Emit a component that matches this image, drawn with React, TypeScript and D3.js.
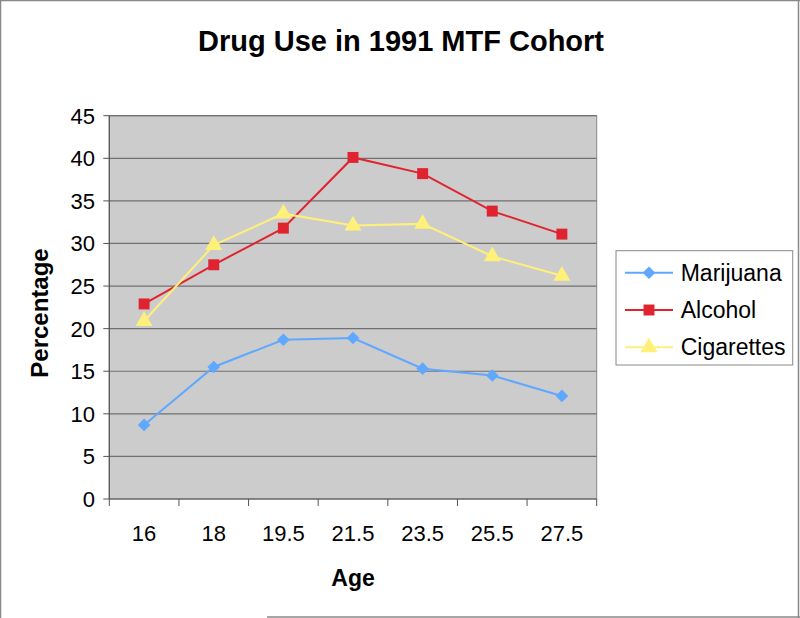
import React from "react";
import * as d3 from "d3";

const ages = ["16", "18", "19.5", "21.5", "23.5", "25.5", "27.5"];
const marijuana = [8.7, 15.5, 18.7, 18.9, 15.3, 14.5, 12.1];
const alcohol = [22.9, 27.5, 31.8, 40.1, 38.2, 33.8, 31.1];
const cigarettes = [20.9, 29.8, 33.5, 32.1, 32.3, 28.5, 26.2];
const yTicks = [0, 5, 10, 15, 20, 25, 30, 35, 40, 45];

const seriesNames = ["Marijuana", "Alcohol", "Cigarettes"];
const seriesColors = ["#5fa8ff", "#e0242f", "#fff07a"];
const seriesShapes = [d3.symbolSquare, d3.symbolSquare, d3.symbolTriangle];
const seriesRotate = [45, 0, 0];

const W = 800, H = 618;
const L = 109.3, R = 596.7, T = 115.7, B = 499;
const FONT = "'Liberation Sans', Arial, sans-serif";

export default function App() {
  const x = d3.scaleBand().domain(ages).range([L, R]).padding(0);
  const y = d3.scaleLinear().domain([0, 45]).range([B, T]);
  const data = [marijuana, alcohol, cigarettes];
  const line = d3
    .line<number>()
    .x((_, i) => (x(ages[i]) as number) + x.bandwidth() / 2)
    .y((d) => y(d));
  const symSizes = [80, 120, 125];

  const catEdges = ages.map((a) => x(a) as number).concat([R]);

  return (
    <svg
      width={W}
      height={H}
      style={{ position: "absolute", left: 0, top: 0, fontFamily: FONT }}
    >
      <rect x={0} y={0} width={W} height={H} fill="#fff" />
      {/* outer border */}
      <line x1={0} y1={0.5} x2={800} y2={0.5} stroke="#888" strokeWidth={1.5} />
      <line x1={0.5} y1={0} x2={0.5} y2={618} stroke="#888" strokeWidth={1.5} />
      <line x1={798.5} y1={0} x2={798.5} y2={618} stroke="#888" strokeWidth={1.5} />
      <line x1={267} y1={617} x2={800} y2={617} stroke="#888" strokeWidth={1.5} />

      <text x={401} y={51} textAnchor="middle" fontSize={29} fontWeight="bold" fill="#000">
        Drug Use in 1991 MTF Cohort
      </text>

      {/* plot area */}
      <rect x={L} y={T} width={R - L} height={B - T} fill="#cccccc" stroke="#888" strokeWidth={1} />
      {yTicks.map((t) => (
        <g key={t}>
          {t > 0 && (
            <line x1={L} x2={R} y1={y(t)} y2={y(t)} stroke="#707070" strokeWidth={1.2} />
          )}
          <line x1={L - 6} x2={L} y1={y(t)} y2={y(t)} stroke="#555" strokeWidth={1} />
          <text x={95} y={y(t) + 8} textAnchor="end" fontSize={22} fill="#000">
            {t}
          </text>
        </g>
      ))}
      <line x1={L} x2={L} y1={T} y2={B} stroke="#555" strokeWidth={1.2} />
      <line x1={L} x2={R} y1={B} y2={B} stroke="#555" strokeWidth={1.2} />
      {catEdges.map((e, i) => (
        <line key={i} x1={e} x2={e} y1={B} y2={B + 7} stroke="#555" strokeWidth={1} />
      ))}
      {ages.map((a) => (
        <text
          key={a}
          x={(x(a) as number) + x.bandwidth() / 2}
          y={541}
          textAnchor="middle"
          fontSize={22}
          fill="#000"
        >
          {a}
        </text>
      ))}

      {/* series */}
      {data.map((vals, si) => (
        <g key={si}>
          <path d={line(vals) || ""} fill="none" stroke={seriesColors[si]} strokeWidth={2} />
          {vals.map((v, i) => (
            <path
              key={i}
              transform={`translate(${(x(ages[i]) as number) + x.bandwidth() / 2},${y(v)}) rotate(${seriesRotate[si]})`}
              d={d3.symbol().type(seriesShapes[si]).size(symSizes[si])() || ""}
              fill={seriesColors[si]}
            />
          ))}
        </g>
      ))}

      {/* axis titles */}
      <text x={353} y={586} textAnchor="middle" fontSize={23} fontWeight="bold" fill="#000">
        Age
      </text>
      <text
        transform={`translate(48,${313}) rotate(-90)`}
        textAnchor="middle"
        fontSize={24}
        fontWeight="bold"
        fill="#000"
      >
        Percentage
      </text>

      {/* legend */}
      <rect x={616} y={250.7} width={176.7} height={114.3} fill="#fff" stroke="#888" strokeWidth={1} />
      {seriesNames.map((n, i) => {
        const cy = 272.7 + i * 37.3;
        return (
          <g key={n}>
            <line x1={625} x2={673} y1={cy} y2={cy} stroke={seriesColors[i]} strokeWidth={2} />
            <path
              transform={`translate(649,${cy}) rotate(${seriesRotate[i]})`}
              d={d3.symbol().type(seriesShapes[i]).size(symSizes[i])() || ""}
              fill={seriesColors[i]}
            />
            <text x={680.7} y={cy + 8} fontSize={23} fill="#000">
              {n}
            </text>
          </g>
        );
      })}
    </svg>
  );
}
